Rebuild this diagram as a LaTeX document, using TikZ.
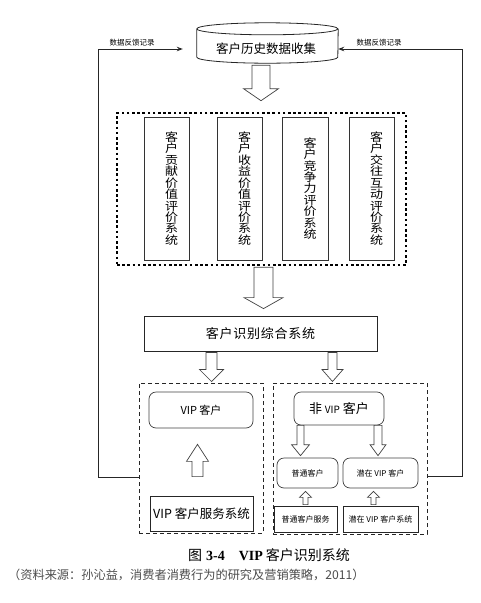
\documentclass[tikz,border=0pt]{standalone}
\usepackage{fontspec}
\setmainfont{Liberation Serif}
\newfontfamily\cjk{Noto Sans CJK SC}
\newfontfamily\cjkls[LetterSpace=6]{Noto Sans CJK SC}
\usetikzlibrary{arrows.meta,calc}
\newcommand\harrow[5]{%
  \draw[hollow] let \p1=#1, \p2=#2, \n1={sign(\y2-\y1)} in
    (\x1-#3,\y1) -- (\x1-#3,\y2-\n1*#5) -- (\x1-#4,\y2-\n1*#5) -- (\x1,\y2)
    -- (\x1+#4,\y2-\n1*#5) -- (\x1+#3,\y2-\n1*#5) -- (\x1+#3,\y1) -- cycle;}
\tikzset{
 hollow/.style={draw=black!75, line width=0.7pt, fill=white},
 fb/.style={draw=black!85, line width=1pt, -{Stealth[length=6pt,width=4.5pt]}},
 fblabel/.style={font=\cjk\fontsize{7.5}{8}\selectfont, inner sep=0},
 vbox/.style={draw=black!80, line width=0.7pt, minimum width=45pt, minimum height=143pt, inner sep=0},
 vtext/.style={font=\cjk\fontsize{13}{13}\selectfont, align=center, inner sep=0, yscale=0.88, transform shape},
 rbox/.style={draw=black!75, line width=0.7pt, rounded corners=7pt, inner sep=0},
 sbox/.style={draw=black!85, line width=0.8pt, inner sep=0},
 dbox/.style={draw=black!85, line width=1pt, dash pattern=on 4pt off 3pt, inner sep=0},
 dotbox/.style={draw=black, line width=2.6pt, dash pattern=on 2.6pt off 2.6pt, inner sep=0},
 cyl/.style={draw=black!85, line width=0.8pt},
}
\begin{document}
\begin{tikzpicture}[x=1pt,y=-1pt]
\useasboundingbox (0,0) rectangle (481,603);
% history cylinder
\node[minimum width=141pt, minimum height=40pt, inner sep=0] (hist) at (267.5,43) {};
\draw[cyl] ($(hist.north west)+(0,6)$) arc[start angle=180, delta angle=360, x radius=70.5pt, y radius=6pt]
  -- ($(hist.south west)+(0,-6)$) arc[start angle=180, end angle=360, x radius=70.5pt, y radius=6pt]
  -- ($(hist.north east)+(0,6)$);
\node[font=\cjk\fontsize{12.5}{14}\selectfont, inner sep=0] (histt) at (266,49) {客户历史数据收集};
% evaluation systems
\node[dotbox, minimum width=289pt, minimum height=152pt] (eval) at (261.5,189) {};
\node[vbox] (v1) at (166.5,188.5) {};
\node[vbox] (v2) at (239.5,188.5) {};
\node[vbox, minimum width=46pt] (v3) at (305,188.5) {};
\node[vbox] (v4) at (371.5,188.5) {};
\node[vtext] (v1t) at ([xshift=5pt]v1.center) {客\\户\\贡\\献\\价\\值\\评\\价\\系\\统};
\node[vtext] (v2t) at ([xshift=5pt]v2.center) {客\\户\\收\\益\\价\\值\\评\\价\\系\\统};
\node[vtext] (v3t) at ([xshift=5pt]v3.center) {客\\户\\竞\\争\\力\\评\\价\\系\\统};
\node[vtext] (v4t) at ([xshift=5pt]v4.center) {客\\户\\交\\往\\互\\动\\评\\价\\系\\统};
% identification
\node[sbox, minimum width=233pt, minimum height=35pt, font=\cjkls\fontsize{13}{15}\selectfont] (ident) at (260.5,333.5) {客户识别综合系统};
% groups
\node[dbox, minimum width=124pt, minimum height=150pt] (vipgrp) at (201,458) {};
\node[dbox, minimum width=154pt, minimum height=151pt] (nvipgrp) at (350,458.5) {};
\node[rbox, minimum width=104pt, minimum height=36pt, font=\cjk\fontsize{11}{13}\selectfont] (vip) at (201,410) {VIP 客户};
\node[sbox, minimum width=103pt, minimum height=35pt, font=\cjk\fontsize{12.5}{14}\selectfont] (vipsvc) at (201.5,513.5) {VIP 客户服务系统};
\node[rbox, minimum width=90pt, minimum height=33pt, font=\cjk\fontsize{13}{15}\selectfont] (nvip) at (339,408.5) {非 {\fontsize{10}{12}\selectfont VIP} 客户};
\node[rbox, minimum width=61pt, minimum height=30pt, font=\cjk\fontsize{8}{10}\selectfont] (norm) at (307.5,473) {普通客户};
\node[rbox, minimum width=75pt, minimum height=30pt, font=\cjk\fontsize{8}{10}\selectfont] (pot) at (380.5,473) {潜在 VIP 客户};
\node[sbox, minimum width=63pt, minimum height=26pt, font=\cjk\fontsize{8}{10}\selectfont] (normsvc) at (305.5,519) {普通客户服务};
\node[sbox, minimum width=75pt, minimum height=26pt, font=\cjk\fontsize{8}{10}\selectfont] (potsvc) at (380.5,519) {潜在 VIP 客户系统};
% hollow arrows
\harrow{($(hist.south)+(-6.5,2)$)}{($(eval.north)+(-0.5,-11)$)}{9pt}{17.5pt}{12pt}
\harrow{($(eval.south)+(2,1)$)}{($(ident.north)+(3,-7)$)}{9.5pt}{19.5pt}{11pt}
\harrow{($(ident.south)+(-49,1)$)}{($(vipgrp.north)+(10.5,-1)$)}{5.5pt}{12pt}{12pt}
\harrow{($(ident.south)+(72,1)$)}{($(nvipgrp.north)+(-17.5,-1)$)}{4.5pt}{10.5pt}{12pt}
\harrow{($(vipsvc.north)+(-4,-19)$)}{($(vip.south)+(-3.5,16)$)}{5.5pt}{11pt}{17pt}
\harrow{($(nvip.south)+(-38.5,0)$)}{($(norm.north)+(-7,-2)$)}{3.5pt}{9pt}{11pt}
\harrow{($(nvip.south)+(39,0)$)}{($(pot.north)+(-2.5,-2)$)}{4pt}{8pt}{11pt}
\harrow{($(normsvc.north)+(0,-1)$)}{($(norm.south)+(-2,3)$)}{2.5pt}{6pt}{6pt}
\harrow{($(potsvc.north)+(-7,-1)$)}{($(pot.south)+(-7,3)$)}{2.5pt}{6pt}{6pt}
% feedback lines
\coordinate (fbl) at (98,49);
\coordinate (fbr) at (462,49);
\draw[fb] ($(vipgrp.west)+(0,19)$) -| (fbl) -- ($(hist.west)+(-14,6)$);
\draw[fb] ($(nvipgrp.east)+(0,17.5)$) -| (fbr) -- ($(hist.east)+(0,6)$);
\node[fblabel] (lbl1) at (132,43) {数据反馈记录};
\node[fblabel] (lbl2) at (379,43) {数据反馈记录};
% caption
\node[inner sep=0, font=\fontsize{14}{16}\selectfont] (cap) at (269,555) {{\cjk 图}\hspace{4pt}\textbf{3-4}\hspace{14pt}\textbf{VIP}\hspace{3pt}{\cjk 客户识别系统}};
\node[inner sep=0, anchor=west, text=black!70, font=\cjk\fontsize{12.2}{14}\selectfont] (src) at (8,575) {（资料来源：孙沁益，消费者消费行为的研究及营销策略，2011）};
\end{tikzpicture}
\end{document}
